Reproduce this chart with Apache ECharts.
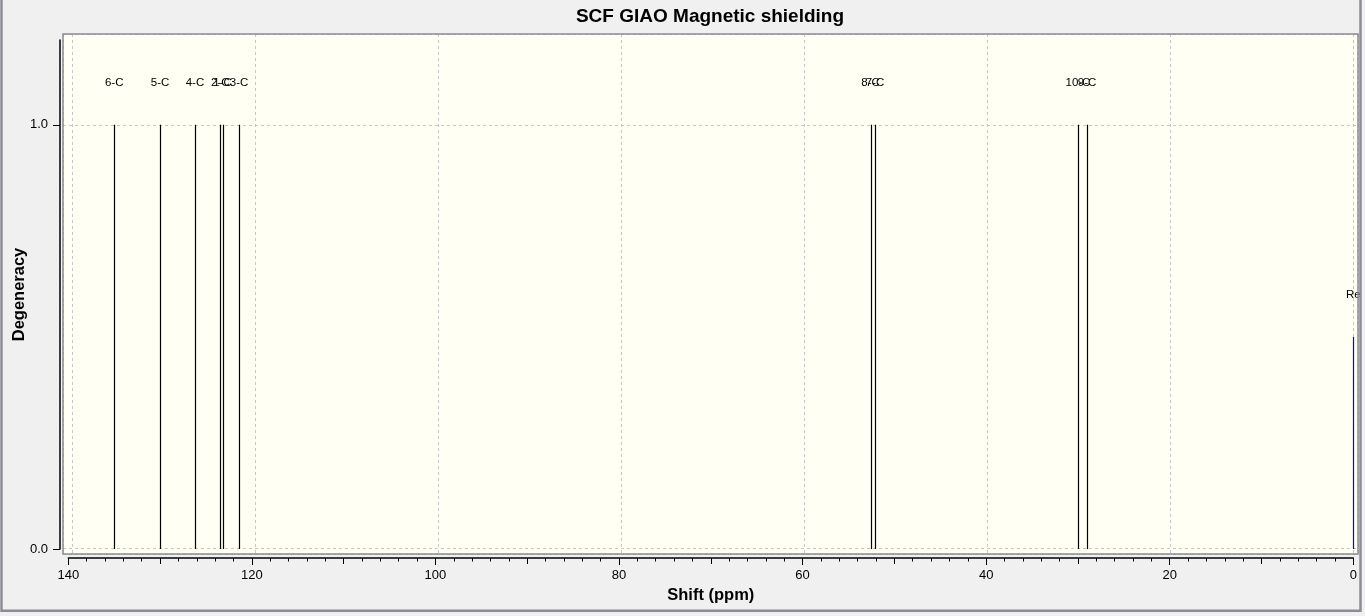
<!DOCTYPE html>
<html>
<head>
<meta charset="utf-8">
<script src="https://cdn.jsdelivr.net/npm/echarts@6/dist/echarts.min.js"></script>
<style>
  html, body { margin: 0; padding: 0; background: #f0f0f0; }
  #chart { width: 1365px; height: 616px; }
</style>
</head>
<body>
<div id="chart"></div>
<script>
// peak data
const atoms = ['6-C', '5-C', '4-C', '2-C', '1-C', '3-C', '8-C', '7-C', '10-C', '9-C', 'Re'];
const shifts = [135.0, 130.0, 126.2, 123.45, 123.2, 121.4, 52.6, 52.1, 30.0, 29.0, 0.0];
const degeneracy = [1, 1, 1, 1, 1, 1, 1, 1, 1, 1, 0.5];
const yTicks = [0, 1];

const FONT = '"Liberation Sans", Arial, sans-serif';

var chart = echarts.init(document.getElementById('chart'), null, { renderer: 'canvas' });

const peaks = atoms.map((a, i) => [shifts[i], degeneracy[i]]);

const option = {
  backgroundColor: '#f0f0f0',
  animation: false,
  grid: [
    // plot box (background + dashed grid)
    { left: 63, right: 7, top: 34, bottom: 62, show: true, backgroundColor: '#fffff4', borderWidth: 0,
      containLabel: false, outerBoundsMode: 'none' },
    // axes + peaks
    { left: 68.3, right: 11.7, top: 40, bottom: 67, containLabel: false, outerBoundsMode: 'none' }
  ],
  xAxis: [
    {
      gridIndex: 0, type: 'value', min: -0.51, max: 141.02, inverse: true,
      minInterval: 20, maxInterval: 20,
      axisLine: { show: false }, axisTick: { show: false }, axisLabel: { show: false },
      splitLine: { show: true, lineStyle: { color: '#c6c6c6', width: 1, type: [3, 3] } }
    },
    {
      gridIndex: 1, type: 'value', min: 0, max: 140, interval: 20, inverse: true,
      position: 'bottom', offset: 9,
      axisLine: { show: true, onZero: false, lineStyle: { color: '#000', width: 1.5 } },
      axisTick: { show: true, length: 7, lineStyle: { color: '#000', width: 1 } },
      minorTick: { show: true, splitNumber: 10, length: 3.5, lineStyle: { color: '#000', width: 1 } },
      axisLabel: { margin: 11, color: '#000', fontSize: 13, fontFamily: FONT },
      splitLine: { show: false },
      name: 'Shift (ppm)', nameLocation: 'middle', nameGap: 29, nameMoveOverlap: false,
      nameTextStyle: { color: '#000', fontSize: 16.5, fontWeight: 'bold', fontFamily: FONT }
    },
    {
      gridIndex: 1, type: 'value', min: 0, max: 140, interval: 10, inverse: true,
      position: 'bottom', offset: 9,
      axisLine: { show: false, onZero: false },
      axisTick: { show: true, length: 6, lineStyle: { color: '#000', width: 1 } },
      axisLabel: { show: false },
      splitLine: { show: false }
    }
  ],
  yAxis: [
    {
      gridIndex: 0, type: 'value', min: -0.013, max: 1.2143,
      minInterval: 1, maxInterval: 1,
      axisLine: { show: false }, axisTick: { show: false }, axisLabel: { show: false },
      splitLine: { show: true, lineStyle: { color: '#c6c6c6', width: 1, type: [3, 3] } }
    },
    {
      gridIndex: 1, type: 'value', min: 0, max: 1.2, position: 'left', offset: 8.3,
      axisLine: { show: true, onZero: false, lineStyle: { color: '#000', width: 1.5 } },
      axisTick: { show: true, length: 7, customValues: yTicks, lineStyle: { color: '#000', width: 1 } },
      axisLabel: {
        margin: 12, color: '#000', fontSize: 13, fontFamily: FONT,
        customValues: yTicks, formatter: v => v.toFixed(1)
      },
      splitLine: { show: false },
      name: 'Degeneracy', nameLocation: 'middle', nameGap: 32, nameRotate: 90, nameMoveOverlap: false,
      nameTextStyle: { color: '#000', fontSize: 16.5, fontWeight: 'bold', fontFamily: FONT }
    }
  ],
  series: [
    {
      type: 'custom',
      xAxisIndex: 1,
      yAxisIndex: 1,
      data: peaks,
      renderItem: function (params, api) {
        const x = api.value(0), y = api.value(1);
        const top = api.coord([x, y]);
        const base = api.coord([x, 0]);
        const lab = api.coord([x, y + 0.1]);
        const px = Math.round(top[0]) + 0.5;
        const name = atoms[params.dataIndex];
        return {
          type: 'group',
          children: [
            {
              type: 'line',
              shape: { x1: px, y1: top[1], x2: px, y2: base[1] },
              style: { stroke: name === 'Re' ? '#0000ff' : '#000', lineWidth: 1.2 }
            },
            {
              type: 'text',
              x: lab[0], y: lab[1],
              style: {
                text: name, align: 'center', verticalAlign: 'middle',
                font: '11.5px ' + FONT, fill: '#000'
              }
            }
          ]
        };
      }
    }
  ],
  graphic: [
    {
      type: 'rect', z: 100, silent: true,
      shape: { x: 63, y: 34, width: 1295, height: 520 },
      style: { fill: 'none', stroke: '#8a8a94', lineWidth: 1.5 }
    },
    {
      type: 'rect', z: 100, silent: true,
      shape: { x: 1.5, y: -10, width: 1359, height: 620.7 },
      style: { fill: 'none', stroke: '#8a8c96', lineWidth: 2.5 }
    },
    {
      type: 'text', z: 100, silent: true,
      x: 710, y: 17,
      style: {
        text: 'SCF GIAO Magnetic shielding', align: 'center', verticalAlign: 'middle',
        font: 'bold 19px ' + FONT, fill: '#000'
      }
    }
  ]
};

option && chart.setOption(option);
</script>
</body>
</html>
